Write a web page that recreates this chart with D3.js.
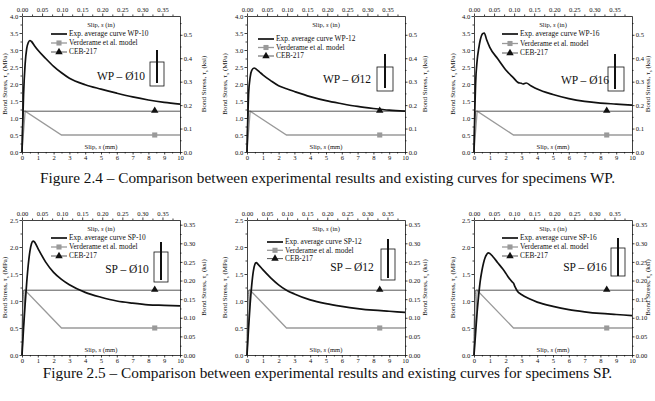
<!DOCTYPE html>
<html lang="en">
<head>
<meta charset="utf-8">
<title>Bond stress - slip</title>
<script src="https://cdn.jsdelivr.net/npm/d3@7"></script>
<style>
  body { margin: 0; background: #fff; }
  svg text { font-family: "Liberation Serif", "Times New Roman", serif; fill: #111; }
</style>
</head>
<body>
<script>
  // data (slip mm, bond stress MPa)
  const specimens = ["WP-10", "WP-12", "WP-16", "SP-10", "SP-12", "SP-16"];
  const panelLabels = ["WP – Ø10", "WP – Ø12", "WP – Ø16", "SP – Ø10", "SP – Ø12", "SP – Ø16"];

  const expWP10 = [[0,0],[0.05,0.9],[0.1,1.7],[0.2,2.6],[0.3,3.05],[0.4,3.22],[0.5,3.28],[0.6,3.25],[0.8,3.12],[1,3.0],
    [1.5,2.75],[2,2.52],[2.5,2.33],[3,2.17],[4,1.98],[5,1.85],[6,1.73],[7,1.62],[8,1.53],[9,1.46],[10,1.41]];
  const expWP12 = [[0,0],[0.05,1.0],[0.1,1.7],[0.2,2.2],[0.3,2.4],[0.45,2.47],[0.6,2.43],[0.8,2.35],[1,2.27],
    [1.5,2.1],[2,1.95],[2.5,1.86],[3,1.78],[4,1.63],[5,1.51],[6,1.42],[7,1.34],[8,1.28],[9,1.23],[10,1.2]];
  const expWP16 = [[0,0],[0.05,1.2],[0.1,2.0],[0.2,2.7],[0.3,3.05],[0.4,3.3],[0.55,3.48],[0.65,3.5],[0.8,3.3],[1,3.08],
    [1.5,2.74],[2,2.42],[2.5,2.18],[2.8,2.04],[3,2.02],[3.1,2.0],[3.3,2.03],[3.6,1.95],[4,1.85],[5,1.69],[6,1.57],
    [7,1.49],[8,1.44],[9,1.41],[10,1.38]];
  const expSP10 = [[0,0],[0.1,0.5],[0.2,0.95],[0.3,1.35],[0.4,1.68],[0.5,1.92],[0.6,2.06],[0.7,2.11],[0.8,2.09],[1,1.98],
    [1.5,1.72],[2,1.53],[2.5,1.4],[3,1.3],[4,1.16],[5,1.07],[6,1.0],[7,0.96],[8,0.93],[9,0.92],[10,0.91]];
  const expSP12 = [[0,0],[0.1,0.5],[0.2,0.95],[0.3,1.3],[0.4,1.55],[0.5,1.68],[0.58,1.71],[0.7,1.68],[1,1.58],
    [1.5,1.43],[2,1.3],[2.5,1.2],[3,1.13],[4,1.02],[5,0.95],[6,0.9],[7,0.86],[8,0.83],[9,0.81],[10,0.79]];
  const expSP16 = [[0,0],[0.1,0.4],[0.2,0.8],[0.3,1.12],[0.4,1.38],[0.5,1.56],[0.6,1.7],[0.7,1.8],[0.8,1.86],[0.9,1.89],
    [1,1.88],[1.2,1.82],[1.5,1.71],[1.8,1.6],[2,1.52],[2.2,1.43],[2.4,1.36],[2.5,1.33],[2.6,1.26],[2.75,1.18],[3,1.12],
    [3.5,1.04],[4,0.98],[5,0.9],[6,0.84],[7,0.8],[8,0.77],[9,0.75],[10,0.73]];
  const expCurves = [expWP10, expWP12, expWP16, expSP10, expSP12, expSP16];

  const verderame = [[0,0],[0.2,1.2],[2.5,0.5],[10,0.5]];
  const ceb217 = [[0,0],[0.01,0.48],[0.03,0.75],[0.06,0.98],[0.1,1.2],[10,1.2]];
  const markerSlip = 8.4;

  const mmTicks = [0,1,2,3,4,5,6,7,8,9,10];
  const inTicks = [0,0.05,0.1,0.15,0.2,0.25,0.3,0.35];
  const wpMpaTicks = [0,0.5,1,1.5,2,2.5,3,3.5,4];
  const spMpaTicks = [0,0.5,1,1.5,2,2.5];
  const wpKsiTicks = [0,0.1,0.2,0.3,0.4,0.5];
  const spKsiTicks = [0,0.05,0.1,0.15,0.2,0.25,0.3,0.35];
  const captions = [
    "Figure 2.4 – Comparison between experimental results and existing curves for specimens WP.",
    "Figure 2.5 – Comparison between experimental results and existing curves for specimens SP."
  ];

  // layout
  const width = 655, height = 401;
  const plotW = 158;
  const serif = "Liberation Serif";
  const cols = [{ left: 22, labL: 7, labR: 206 }, { left: 247, labL: 227, labR: 427 }, { left: 474, labL: 455, labR: 650 }];
  const rows = [{ top: 16, bottom: 152, cap: 183 }, { top: 220, bottom: 355, cap: 378 }];
  const layout = [
    { leg: [29, 18, 9], lab: [99, 60], rect: [128, 46, 14, 24], bar: [135, 34, 67] },
    { leg: [11, 23, 8.5], lab: [100, 63], rect: [130, 51, 16, 24], bar: [138, 38, 72] },
    { leg: [28, 18, 9.5], lab: [111, 64], rect: [134, 51, 16, 24], bar: [141, 38, 73] },
    { leg: [29, 18, 9], lab: [105, 49], rect: [132, 32, 14, 30], bar: [139, 22, 60] },
    { leg: [20, 22, 8.3], lab: [105, 47], rect: [134, 29, 14, 31], bar: [141, 19, 58] },
    { leg: [28, 18, 9], lab: [111, 47], rect: [137, 28, 14, 28], bar: [144, 18, 56] }
  ];
  const greyCol = "#9a9a9a", cebCol = "#444";

  const svg = d3.select("body").append("svg").attr("width", width).attr("height", height)
    .attr("font-family", serif);

  function minorOf(ticks) {
    const step = ticks[1] - ticks[0];
    return ticks.slice(0, -1).map(t => +(t + step / 2).toFixed(4));
  }

  function styleAxis(g) {
    g.attr("font-size", 6.6).attr("font-family", serif);
    g.selectAll("path,line").attr("stroke", "#111").attr("stroke-width", 0.8);
  }

  function addAxis(axisFn, scale, ticks, fmt, transform, extraMinor) {
    const major = axisFn(scale).tickValues(ticks).tickFormat(fmt).tickSize(2.5).tickSizeOuter(0).tickPadding(1.2);
    svg.append("g").attr("transform", transform).call(major).call(styleAxis);
    const minor = axisFn(scale).tickValues(extraMinor).tickFormat("").tickSize(1.5).tickSizeOuter(0);
    svg.append("g").attr("transform", transform).call(minor).call(styleAxis)
      .select(".domain").remove();
  }

  function bondLabel(x, y, unit) {
    const t = svg.append("text").attr("transform", `translate(${x},${y}) rotate(-90)`)
      .attr("text-anchor", "middle").attr("font-size", 7);
    t.append("tspan").text("Bond Stress, τ");
    t.append("tspan").text("s").attr("font-size", 5).attr("dy", 1.5);
    t.append("tspan").text(` (${unit})`).attr("dy", -1.5);
  }

  function slipLabel(x, y, unit) {
    const t = svg.append("text").attr("x", x).attr("y", y).attr("text-anchor", "middle").attr("font-size", 6.6);
    t.append("tspan").text("Slip, ");
    t.append("tspan").text("s").attr("font-style", "italic");
    t.append("tspan").text(` (${unit})`);
  }

  specimens.forEach((name, i) => {
    const col = cols[i % 3], row = rows[Math.floor(i / 3)], lay = layout[i];
    const isWP = i < 3;
    const yMax = isWP ? 4 : 2.5;
    const x = d3.scaleLinear().domain([0, 10]).range([col.left, col.left + plotW]);
    const y = d3.scaleLinear().domain([0, yMax]).range([row.bottom, row.top]);
    const xIn = d3.scaleLinear().domain([0, 10 / 25.4]).range(x.range());
    const yKsi = d3.scaleLinear().domain([0, yMax * 0.1450377]).range(y.range());

    const mpaTicks = isWP ? wpMpaTicks : spMpaTicks;
    const ksiTicks = isWP ? wpKsiTicks : spKsiTicks;

    // axes (box)
    addAxis(d3.axisBottom, x, mmTicks, d3.format("d"), `translate(0,${row.bottom})`, minorOf(mmTicks));
    addAxis(d3.axisTop, xIn, inTicks, d3.format(".2f"), `translate(0,${row.top})`, minorOf(inTicks).concat([0.375]));
    addAxis(d3.axisLeft, y, mpaTicks, d3.format(".1f"), `translate(${col.left},0)`, minorOf(mpaTicks));
    addAxis(d3.axisRight, yKsi, ksiTicks, d3.format(isWP ? ".1f" : ".2f"), `translate(${col.left + plotW},0)`,
      minorOf(ksiTicks).concat(isWP ? [0.55] : []));

    // axis titles
    slipLabel(col.left + plotW / 2, row.top + 10.5, "in");
    slipLabel(col.left + plotW / 2, row.bottom - 3, "mm");
    bondLabel(col.labL, (row.top + row.bottom) / 2, "MPa");
    bondLabel(col.labR, (row.top + row.bottom) / 2, "ksi");

    const line = d3.line().x(d => x(d[0])).y(d => y(d[1]));

    // models
    svg.append("path").datum(verderame).attr("d", line)
      .attr("fill", "none").attr("stroke", greyCol).attr("stroke-width", 1.3);
    svg.append("path").datum(ceb217).attr("d", line.curve(d3.curveMonotoneX))
      .attr("fill", "none").attr("stroke", cebCol).attr("stroke-width", 0.9);
    svg.append("path").datum(expCurves[i]).attr("d", line.curve(d3.curveMonotoneX))
      .attr("fill", "none").attr("stroke", "#111").attr("stroke-width", 1.7);

    const square = d3.symbol().type(d3.symbolSquare).size(26);
    const tri = d3.symbol().type(d3.symbolTriangle).size(24);
    svg.append("path").attr("d", square)
      .attr("transform", `translate(${x(markerSlip)},${y(verderame[3][1])})`).attr("fill", greyCol);
    svg.append("path").attr("d", tri)
      .attr("transform", `translate(${x(markerSlip)},${y(ceb217[5][1]) - 0.5})`).attr("fill", "#111");

    // legend
    const lx = col.left + lay.leg[0], ly = row.top + lay.leg[1], gap = lay.leg[2];
    const legItems = [
      { text: "Exp. average curve " + name, stroke: "#111", w: 1.7 },
      { text: "Verderame et al. model", stroke: greyCol, w: 1.3, mark: square, fill: greyCol },
      { text: "CEB-217", stroke: cebCol, w: 0.9, mark: tri, fill: "#111" }
    ];
    legItems.forEach((d, k) => {
      const yy = ly + k * gap;
      svg.append("line").attr("x1", lx).attr("x2", lx + 16).attr("y1", yy).attr("y2", yy)
        .attr("stroke", d.stroke).attr("stroke-width", d.w);
      if (d.mark) {
        svg.append("path").attr("d", d.mark).attr("transform", `translate(${lx + 8},${yy})`).attr("fill", d.fill);
      }
      svg.append("text").attr("x", lx + 18).attr("y", yy + 2.4).attr("font-size", 7.4).text(d.text);
    });

    // specimen label and icon
    svg.append("text").attr("x", col.left + lay.lab[0]).attr("y", row.top + lay.lab[1] + 4)
      .attr("text-anchor", "middle").attr("font-size", 11.5).text(panelLabels[i]);
    svg.append("rect").attr("x", col.left + lay.rect[0]).attr("y", row.top + lay.rect[1])
      .attr("width", lay.rect[2]).attr("height", lay.rect[3])
      .attr("fill", "none").attr("stroke", "#111").attr("stroke-width", 0.8);
    svg.append("line").attr("x1", col.left + lay.bar[0]).attr("x2", col.left + lay.bar[0])
      .attr("y1", row.top + lay.bar[1]).attr("y2", row.top + lay.bar[2])
      .attr("stroke", "#111").attr("stroke-width", 2);
  });

  // captions
  captions.forEach((c, k) => {
    svg.append("text").attr("x", width / 2).attr("y", rows[k].cap)
      .attr("text-anchor", "middle").attr("font-size", 15.3).text(c);
  });
</script>
</body>
</html>
